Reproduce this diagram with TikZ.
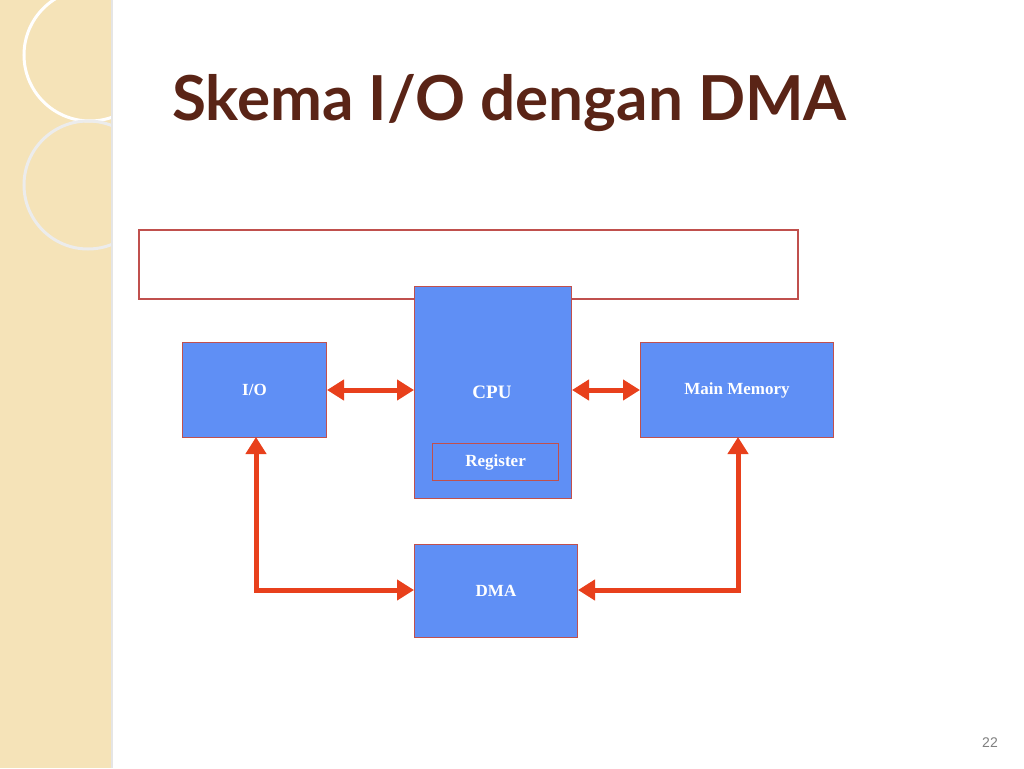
\documentclass[tikz,border=0pt]{standalone}
\usepackage{fontspec}
\setmainfont{Liberation Serif}
\newfontfamily\titlefont{Lato}
\newfontfamily\numfont{Liberation Sans}
\usetikzlibrary{arrows.meta}
\definecolor{boxblue}{HTML}{5F8FF5}
\definecolor{arrred}{HTML}{E8401C}
\definecolor{brd}{HTML}{C0504D}
\definecolor{titlebrown}{HTML}{5A2416}
\definecolor{beige}{HTML}{F5E3B8}
\tikzset{
  x=1pt,y=-1pt,
  blk/.style={draw=brd,fill=boxblue,line width=1pt,inner sep=0pt,font=\bfseries\fontsize{17}{17}\selectfont,text=white},
  arr/.style={draw=arrred,line width=5pt,{Triangle[length=17pt,width=20pt]}-{Triangle[length=17pt,width=20pt]}}
}
\begin{document}
\begin{tikzpicture}
\useasboundingbox (0,0) rectangle (1024,768);
\fill[white] (0,0) rectangle (1024,768);
\fill[beige] (0,0) rectangle (112,768);
\begin{scope}
\clip (0,0) rectangle (112,768);
\draw[white,line width=3pt] (90,55) circle (66);
\draw[white!85!gray,line width=3pt] (88,185) circle (64);
\end{scope}
\draw[white!80!gray,line width=1.5pt] (112,0) -- (112,768);
\node[anchor=base west,text=titlebrown,font=\titlefont\bfseries\fontsize{62}{62}\selectfont,inner sep=0pt] (title) at (172,120) {Skema I/O dengan DMA};
\node[draw=brd,line width=1.5pt,minimum width=659pt,minimum height=69pt,anchor=north west] (bus) at (138,229) {};
\node[blk,minimum width=157pt,minimum height=212pt,anchor=north west] (cpu) at (414,286) {};
\node[font=\bfseries\fontsize{19}{19}\selectfont,text=white] (cputxt) at (492,392) {CPU};
\node[draw=brd,line width=1.2pt,minimum width=126pt,minimum height=37pt,anchor=north west,font=\bfseries\fontsize{17}{17}\selectfont,text=white] (reg) at (432,443) {Register};
\node[blk,minimum width=144pt,minimum height=95pt,anchor=north west] (io) at (182,342) {};
\node[font=\bfseries\fontsize{17}{17}\selectfont,text=white] at (io.center) {I/O};
\node[blk,minimum width=193pt,minimum height=95pt,anchor=north west] (mm) at (640,342) {};
\node[font=\bfseries\fontsize{17}{17}\selectfont,text=white] at (mm.center) {Main Memory};
\node[blk,minimum width=163pt,minimum height=93pt,anchor=north west] (dma) at (414,544) {};
\node[font=\bfseries\fontsize{17}{17}\selectfont,text=white] at (dma.center) {DMA};
\draw[arr] (io.east |- 0,390) -- (cpu.west |- 0,390);
\draw[arr] (cpu.east |- 0,390) -- (mm.west |- 0,390);
\draw[arr] (256,437) -- (256,590) -- (dma.west |- 0,590);
\draw[arr] (738,437) -- (738,590) -- (dma.east |- 0,590);
\node[text=gray,font=\numfont\fontsize{14}{14}\selectfont] (pg) at (990,743) {22};
\end{tikzpicture}
\end{document}
